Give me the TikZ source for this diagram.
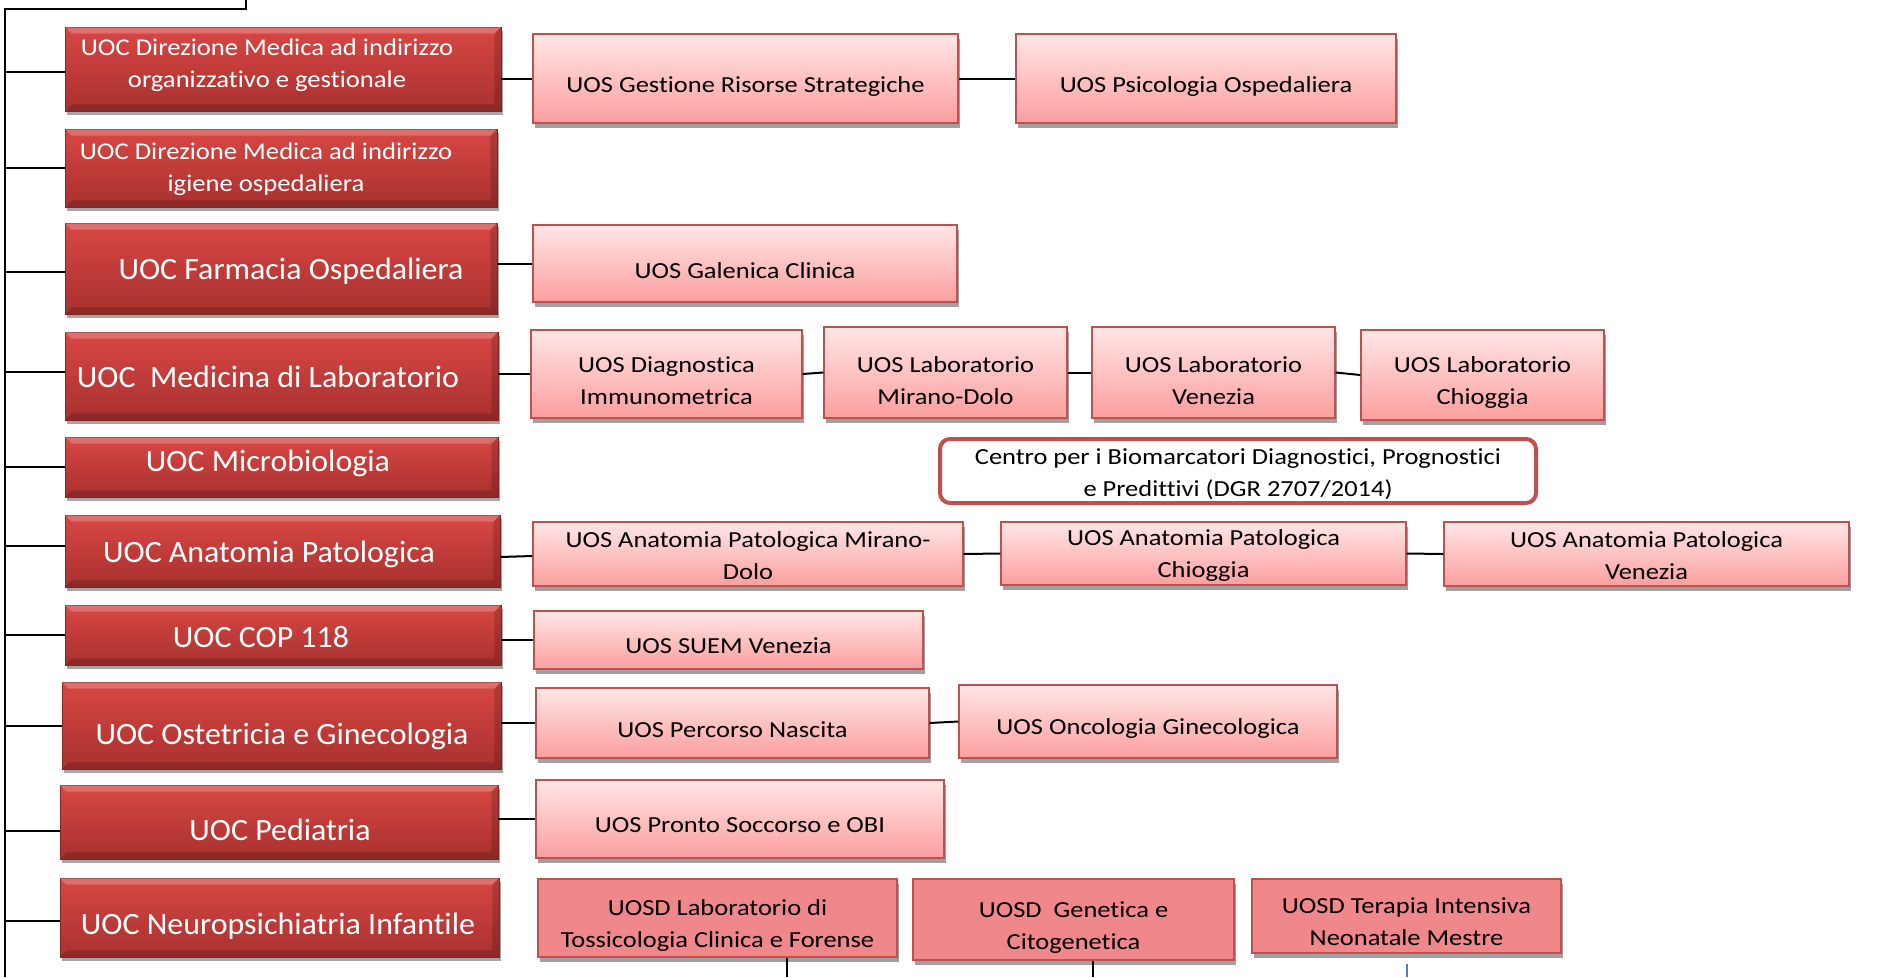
\documentclass[tikz,border=0pt]{standalone}
\usepackage{fontspec}
\setmainfont{Carlito}[Ligatures=NoCommon]
\newfontfamily\uosfont{Carlito}[FakeStretch=1.15,Ligatures=NoCommon]
\newfontfamily\dirfont{Carlito}[FakeStretch=1.11,Ligatures=NoCommon]
\newfontfamily\uocfont{Carlito}[FakeStretch=1.03,Ligatures=NoCommon]
\usetikzlibrary{shadows,calc}
\definecolor{uoctop}{HTML}{D84744}
\definecolor{uocbot}{HTML}{A8312E}
\definecolor{uocedge}{HTML}{8E2622}
\definecolor{uostop}{HTML}{FFE6E6}
\definecolor{uosbot}{HTML}{FC9E9E}
\definecolor{redline}{HTML}{C0504D}
\definecolor{uosdfill}{HTML}{F0878A}
\definecolor{shadowgray}{HTML}{A0A0A0}
\definecolor{blueline}{HTML}{4F81BD}
\tikzset{
  uocbox/.style={draw=uocedge, line width=0.8pt, top color=uoctop, bottom color=uocbot, inner sep=0pt,
    drop shadow={shadow xshift=2pt, shadow yshift=-4pt, fill=black, opacity=0.35}},
  bevlight/.style={fill=white, opacity=0.22},
  bevdark/.style={fill=black, opacity=0.16},
  uostyle/.style={draw=redline, line width=1.2pt, top color=uostop, bottom color=uosbot, inner sep=0pt,
    drop shadow={shadow xshift=2pt, shadow yshift=-5pt, fill=shadowgray, opacity=1}},
  uosdstyle/.style={draw=redline, line width=1.2pt, fill=uosdfill, inner sep=0pt,
    drop shadow={shadow xshift=2pt, shadow yshift=-5pt, fill=shadowgray, opacity=1}},
  centrostyle/.style={draw=redline, line width=4pt, fill=white, rounded corners=10pt, inner sep=0pt},
  uostxt/.style={inner sep=0pt, align=center, font=\uosfont\fontsize{23}{32}\selectfont},
  uoctxt/.style={text=white, inner sep=0pt, align=center, font=\uocfont\fontsize{31}{38}\selectfont},
  uoctxtsmall/.style={text=white, inner sep=0pt, align=center, font=\dirfont\fontsize{24}{32}\selectfont},
  conn/.style={draw=black, line width=2pt},
}
% style, name, x1, y1, x2, y2, text, text y-offset
\newcommand\mkbox[8]{\node[#1, minimum width={(#5)-(#3)}, minimum height={(#6)-(#4)}] (#2) at ({((#3)+(#5))/2},{((#4)+(#6))/2}) {};
  \node[uostxt] (#2-t) at ([yshift=-#8pt]#2.center) {#7};}
\newcommand\mkuoc[6]{\node[uocbox, minimum width={(#5)-(#3)}, minimum height={(#6)-(#4)}] (#2) at ({((#3)+(#5))/2},{((#4)+(#6))/2}) {};
  \fill[bevlight] (#2.north west) -- (#2.north east) -- ([xshift=-7pt,yshift=-7pt]#2.north east) -- ([xshift=7pt,yshift=-7pt]#2.north west) -- cycle;
  \fill[bevdark] (#2.north east) -- (#2.south east) -- ([xshift=-7pt,yshift=7pt]#2.south east) -- ([xshift=-7pt,yshift=-7pt]#2.north east) -- cycle;
  \fill[bevdark] (#2.south west) -- (#2.south east) -- ([xshift=-7pt,yshift=7pt]#2.south east) -- ([xshift=7pt,yshift=7pt]#2.south west) -- cycle;}
\begin{document}
\begin{tikzpicture}[x=1pt,y=-1pt]
\useasboundingbox (0,0) rectangle (1879,977);
% UOC boxes
\mkuoc{uocbox}{dmo}{65}{27}{501}{111}
\mkuoc{uocbox}{dmi}{65}{129}{497}{207}
\mkuoc{uocbox}{far}{65}{223}{497}{314}
\mkuoc{uocbox}{med}{65}{332}{498}{420}
\mkuoc{uocbox}{mic}{65}{437}{498}{497}
\mkuoc{uocbox}{ana}{65}{515}{500}{587}
\mkuoc{uocbox}{cop}{65}{605}{501}{665}
\mkuoc{uocbox}{ost}{62}{682}{501}{769}
\mkuoc{uocbox}{ped}{60}{785}{498}{859}
\mkuoc{uocbox}{neu}{60}{878}{499}{957}
% UOC texts
\node[uoctxtsmall] (dmo-t) at (267,65) {UOC Direzione Medica ad indirizzo\\organizzativo e gestionale};
\node[uoctxtsmall] (dmi-t) at (266,169) {UOC Direzione Medica ad indirizzo\\igiene ospedaliera};
\node[uoctxt] (far-t) at (291,271) {UOC Farmacia Ospedaliera};
\node[uoctxt] (med-t) at (268,377) {UOC\ \ Medicina di Laboratorio};
\node[uoctxt] (mic-t) at (268,463) {UOC Microbiologia};
\node[uoctxt] (ana-t) at (269,554) {UOC Anatomia Patologica};
\node[uoctxt] (cop-t) at (261,637) {UOC COP 118};
\node[uoctxt] (ost-t) at (282,736) {UOC Ostetricia e Ginecologia};
\node[uoctxt] (ped-t) at (280,830) {UOC Pediatria};
\node[uoctxt] (neu-t) at (278,926) {UOC Neuropsichiatria Infantile};
% UOS boxes
\mkbox{uostyle}{ges}{533}{34}{958}{123}{UOS Gestione Risorse Strategiche}{8}
\mkbox{uostyle}{psi}{1016}{34}{1396}{123}{UOS Psicologia Ospedaliera}{8}
\mkbox{uostyle}{gal}{533}{225}{957}{302}{UOS Galenica Clinica}{7}
\mkbox{uostyle}{dia}{531}{330}{802}{418}{UOS Diagnostica\\Immunometrica}{7}
\mkbox{uostyle}{mir}{824}{327}{1067}{418}{UOS Laboratorio\\Mirano-Dolo}{8}
\mkbox{uostyle}{ven}{1092}{327}{1335}{418}{UOS Laboratorio\\Venezia}{8}
\mkbox{uostyle}{chi}{1361}{330}{1604}{420}{UOS Laboratorio\\Chioggia}{7}
\mkbox{centrostyle}{cen}{940}{439}{1536}{503}{Centro per i Biomarcatori Diagnostici, Prognostici\\e Predittivi (DGR 2707/2014)}{3}
\mkbox{uostyle}{apm}{533}{522}{963}{586}{UOS Anatomia Patologica Mirano-\\Dolo}{2}
\mkbox{uostyle}{apc}{1001}{522}{1406}{585}{UOS Anatomia Patologica\\Chioggia}{2}
\mkbox{uostyle}{apv}{1444}{522}{1849}{586}{UOS Anatomia Patologica\\Venezia}{2}
\mkbox{uostyle}{suem}{534}{611}{923}{669}{UOS SUEM Venezia}{6}
\mkbox{uostyle}{per}{536}{688}{929}{758}{UOS Percorso Nascita}{7}
\mkbox{uostyle}{onc}{959}{685}{1337}{758}{UOS Oncologia Ginecologica}{7}
\mkbox{uostyle}{pro}{536}{780}{944}{858}{UOS Pronto Soccorso e OBI}{6}
\mkbox{uosdstyle}{tox}{538}{879}{897}{957}{UOSD Laboratorio di\\Tossicologia Clinica e Forense}{7}
\mkbox{uosdstyle}{gen}{913}{879}{1234}{960}{UOSD\ \ Genetica e\\Citogenetica}{8}
\mkbox{uosdstyle}{ter}{1252}{879}{1561}{953}{UOSD Terapia Intensiva\\Neonatale Mestre}{6}
% trunk
\coordinate (trunktop) at (5,9);
\coordinate (trunkbot) at (5,977);
\coordinate (topend) at (246,0);
\draw[conn] (trunkbot) -- (trunktop) -- (topend |- trunktop) -- (topend);
\draw[conn] ([yshift=-3pt]dmo.west) -- ([yshift=-3pt]dmo.west -| trunktop);
\draw[conn] (dmi.west) -- (dmi.west -| trunktop);
\draw[conn] ([yshift=-3pt]far.west) -- ([yshift=-3pt]far.west -| trunktop);
\draw[conn] ([yshift=4pt]med.west) -- ([yshift=4pt]med.west -| trunktop);
\draw[conn] (mic.west) -- (mic.west -| trunktop);
\draw[conn] ([yshift=5pt]ana.west) -- ([yshift=5pt]ana.west -| trunktop);
\draw[conn] (cop.west) -- (cop.west -| trunktop);
\draw[conn] (ost.west) -- (ost.west -| trunktop);
\draw[conn] ([yshift=-9pt]ped.west) -- ([yshift=-9pt]ped.west -| trunktop);
\draw[conn] ([yshift=-3pt]neu.west) -- ([yshift=-3pt]neu.west -| trunktop);
% right connectors
\draw[conn] (dmo.east |- ges.west) -- (ges.west);
\draw[conn] (ges.east) -- (psi.west);
\draw[conn] (far.east |- gal.west) -- (gal.west);
\draw[conn] (med.east |- dia.west) -- (dia.west);
\draw[conn] (dia.east) -- (mir.west);
\draw[conn] (mir.east) -- (ven.west);
\draw[conn] (ven.east) -- (chi.west);
\draw[conn] ([yshift=-6pt]ana.east) -- ([yshift=-2pt]apm.west);
\draw[conn] (apm.east) -- (apc.west);
\draw[conn] (apc.east) -- (apv.west);
\draw[conn] (cop.east |- suem.west) -- (suem.west);
\draw[conn] (ost.east |- per.west) -- (per.west);
\draw[conn] (per.east) -- (onc.west);
\draw[conn] (ped.east |- pro.west) -- (pro.west);
% bottom stubs
\coordinate (b1) at (787,977);
\coordinate (b2) at (1093,977);
\coordinate (b3) at (1407,977);
\draw[conn] (b1 |- tox.south) -- (b1);
\draw[conn] (b2 |- gen.south) -- (b2);
\draw[draw=blueline, line width=1.5pt] ([yshift=-10pt]ter.south -| b3) -- (b3);
\end{tikzpicture}
\end{document}
